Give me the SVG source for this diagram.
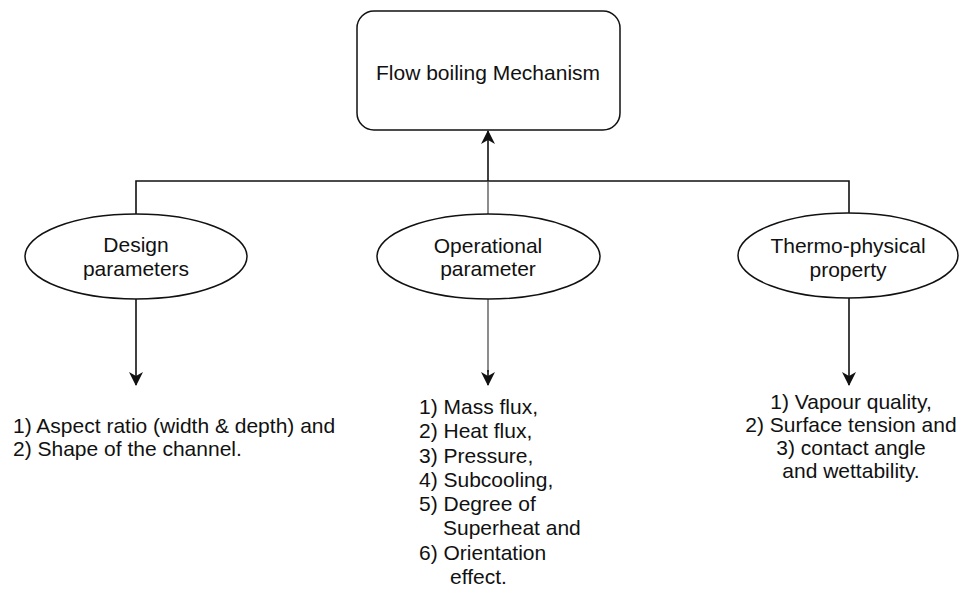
<svg xmlns="http://www.w3.org/2000/svg" width="964" height="589" viewBox="0 0 964 589">
<style>
.shape{fill:#ffffff;stroke:#111111;stroke-width:1.5}
.t{font-family:"Liberation Sans",Arial,sans-serif;font-size:21px;fill:#111111}
.c{text-anchor:middle}
.ln{fill:none;stroke:#111111;stroke-width:1.6}
.gr{fill:none;stroke:#808080;stroke-width:1.8}
</style>
<defs>
<marker id="ah" viewBox="0 0 14 14" refX="13" refY="7" markerWidth="14" markerHeight="14" markerUnits="userSpaceOnUse" orient="auto">
<path d="M0,0 L14,7 L0,14 L4,7 Z" fill="#111111"/>
</marker>
</defs>
<rect width="964" height="589" fill="#ffffff"/>
<g id="connectors">
<path class="ln" d="M136,214 V181 H849 V213"/>
<path class="gr" d="M488,214 V182"/>
<path class="ln" d="M488,181 V131" marker-end="url(#ah)"/>
<path class="ln" d="M136,299 V385" marker-end="url(#ah)"/>
<path class="gr" d="M488,299 V372"/>
<path class="ln" d="M488,370 V385" marker-end="url(#ah)"/>
<path class="ln" d="M849,298 V385" marker-end="url(#ah)"/>
</g>
<g id="flow-boiling">
<rect class="shape" x="357" y="11" width="263" height="119" rx="17" ry="17"/>
<text class="t c" x="488" y="80">Flow boiling Mechanism</text>
</g>
<g id="design">
<ellipse class="shape" cx="136" cy="256.5" rx="111" ry="42.5"/>
<text class="t c" x="136" y="252">Design</text>
<text class="t c" x="136" y="276">parameters</text>
</g>
<g id="operational">
<ellipse class="shape" cx="488.5" cy="256.5" rx="111.5" ry="42.5"/>
<text class="t c" x="488" y="253">Operational</text>
<text class="t c" x="488" y="276">parameter</text>
</g>
<g id="thermo">
<ellipse class="shape" cx="848" cy="255.5" rx="110" ry="42.5"/>
<text class="t c" x="848" y="253">Thermo-physical</text>
<text class="t c" x="848" y="277">property</text>
</g>
<g id="design-list">
<text class="t" x="13" y="433">1) Aspect ratio (width &amp; depth) and</text>
<text class="t" x="13" y="456">2) Shape of the channel.</text>
</g>
<g id="operational-list">
<text class="t" x="419" y="414">1) Mass flux,</text>
<text class="t" x="419" y="438">2) Heat flux,</text>
<text class="t" x="419" y="463">3) Pressure,</text>
<text class="t" x="419" y="487">4) Subcooling,</text>
<text class="t" x="419" y="511">5) Degree of</text>
<text class="t" x="443" y="535">Superheat and</text>
<text class="t" x="419" y="560">6) Orientation</text>
<text class="t" x="450" y="584">effect.</text>
</g>
<g id="thermo-list">
<text class="t c" x="851" y="409">1) Vapour quality,</text>
<text class="t c" x="851" y="432">2) Surface tension and</text>
<text class="t c" x="851" y="455">3) contact angle</text>
<text class="t c" x="851" y="478">and wettability.</text>
</g>
</svg>
